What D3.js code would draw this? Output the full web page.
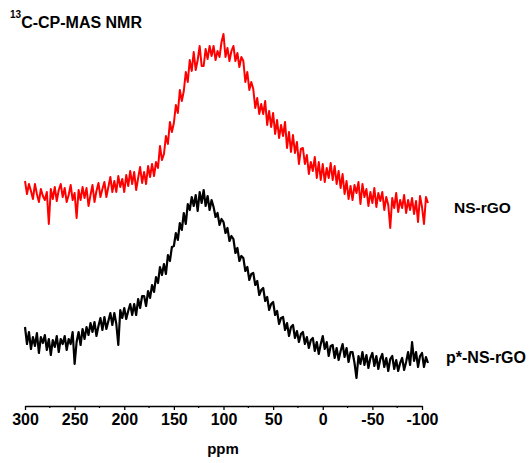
<!DOCTYPE html>
<html>
<head>
<meta charset="utf-8">
<script src="https://cdn.jsdelivr.net/npm/d3@7"></script>
<style>
  body { margin: 0; background: #fff; }
  svg { display: block; }
  text { font-family: Arial, "Liberation Sans", sans-serif; font-weight: bold; }
</style>
</head>
<body>
<svg id="chart" width="529" height="463"></svg>
<script>
// chemical shift grid (ppm), 2 ppm steps from 300 down to -106
const ppm = d3.range(300, -107, -2)

// intensities (a.u., stacked offset already included)
const nsRGO = [
  219, 206, 216, 209, 201, 216, 206, 198, 211, 204,
  200, 208, 176, 211, 201, 213, 199, 210, 216, 203,
  212, 198, 205, 215, 200, 207, 182, 210, 200, 213,
  202, 212, 194, 205, 215, 198, 209, 217, 203, 211,
  218, 203, 213, 223, 208, 219, 208, 224, 213, 221,
  208, 225, 214, 229, 216, 228, 210, 222, 233, 217,
  228, 216, 234, 223, 236, 224, 238, 232, 254, 240,
  246, 264, 256, 278, 268, 277, 295, 287, 310, 299,
  309, 328, 318, 340, 329, 348, 330, 340, 354, 334,
  334, 351, 341, 354, 344, 354, 340, 349, 343, 358,
  366, 343, 352, 339, 349, 354, 339, 347, 333, 343,
  339, 318, 328, 310, 318, 311, 292, 302, 286, 296,
  286, 299, 275, 289, 273, 287, 266, 280, 262, 275,
  264, 278, 252, 268, 248, 265, 247, 258, 236, 251,
  252, 236, 245, 226, 238, 229, 243, 222, 238, 220,
  236, 218, 232, 222, 237, 220, 234, 216, 229, 212,
  226, 206, 219, 201, 214, 200, 215, 207, 218, 196,
  216, 203, 211, 194, 208, 197, 212, 193, 207, 199,
  208, 190, 203, 195, 172, 202, 192, 207, 188, 200,
  192, 205, 187, 200, 190, 202, 186, 199, 178, 204,
  193, 176, 203, 197
]

const pNsRGO = [
  73, 56, 68, 51, 63, 54, 67, 47, 63, 57,
  65, 50, 61, 45, 60, 53, 64, 48, 61, 56,
  64, 50, 61, 56, 68, 36, 58, 68, 55, 71,
  61, 73, 65, 77, 68, 78, 64, 74, 82, 70,
  83, 71, 79, 87, 75, 87, 76, 55, 90, 82,
  92, 81, 89, 96, 85, 96, 85, 101, 92, 104,
  104, 94, 109, 102, 115, 108, 123, 117, 133, 125,
  136, 126, 145, 139, 153, 154, 167, 160, 177, 170,
  187, 176, 196, 190, 203, 194, 205, 189, 208, 197,
  210, 194, 204, 190, 200, 193, 183, 187, 175, 181,
  178, 167, 172, 159, 164, 161, 147, 152, 139, 144,
  142, 129, 133, 120, 126, 127, 115, 119, 105, 110,
  112, 99, 103, 90, 96, 98, 85, 89, 76, 82,
  83, 70, 77, 64, 73, 75, 62, 69, 58, 66,
  68, 56, 63, 52, 60, 62, 49, 58, 46, 56,
  64, 51, 58, 44, 54, 55, 42, 52, 40, 49,
  56, 43, 52, 38, 48, 48, 37, 22, 44, 36,
  48, 35, 45, 32, 42, 47, 34, 44, 31, 41,
  46, 33, 42, 29, 41, 44, 31, 40, 29, 37,
  42, 30, 38, 48, 35, 58, 39, 48, 33, 44,
  47, 33, 43, 37
]

const xTicks = [300, 250, 200, 150, 100, 50, 0, -50, -100]
const xMinorTicks = [275, 225, 175, 125, 75, 25, -25, -75]

const svg = d3.select('#chart')

const x = d3.scaleLinear().domain([300, -100]).range([25, 422])
const y = d3.scaleLinear().domain([0, 380]).range([400, 20])

const line = (vals) => d3.line()
  .x((d, i) => x(ppm[i]))
  .y((d) => y(d))(vals)

svg.append('path')
  .attr('d', line(nsRGO))
  .attr('fill', 'none')
  .attr('stroke', '#ff0000')
  .attr('stroke-width', 2)
  .attr('stroke-linejoin', 'round')

svg.append('path')
  .attr('d', line(pNsRGO))
  .attr('fill', 'none')
  .attr('stroke', '#000')
  .attr('stroke-width', 2.2)
  .attr('stroke-linejoin', 'round')

// x axis
const axisG = svg.append('g').attr('transform', 'translate(0,406)')
axisG.call(d3.axisBottom(x)
  .tickValues(xTicks)
  .tickFormat((d) => String(d))
  .tickSize(4)
  .tickPadding(4)
  .tickSizeOuter(0))
axisG.select('.domain').attr('stroke-width', 1.5)
axisG.selectAll('.tick line').attr('stroke-width', 1.3)
axisG.selectAll('.tick text')
  .attr('font-size', 16)
  .attr('font-family', 'Arial, "Liberation Sans", sans-serif')
  .attr('font-weight', 'bold')
  .attr('fill', '#000')

axisG.selectAll('line.minor')
  .data(xMinorTicks)
  .enter().append('line')
  .attr('class', 'minor')
  .attr('x1', (d) => x(d)).attr('x2', (d) => x(d))
  .attr('y1', 0).attr('y2', 2)
  .attr('stroke', '#000').attr('stroke-width', 1.2)

svg.append('text')
  .attr('x', 223).attr('y', 454)
  .attr('text-anchor', 'middle')
  .attr('font-size', 15)
  .text('ppm')

// title with superscript
const title = svg.append('text').attr('x', 10).attr('y', 28).attr('font-size', 16)
title.append('tspan').attr('font-size', 10).attr('dy', -10).text('13')
title.append('tspan').attr('dy', 10).text('C-CP-MAS NMR')

// series labels
svg.append('text').attr('x', 454).attr('y', 213).attr('font-size', 15.5).text('NS-rGO')
svg.append('text').attr('x', 446).attr('y', 363).attr('font-size', 16).text('p*-NS-rGO')
</script>
</body>
</html>
